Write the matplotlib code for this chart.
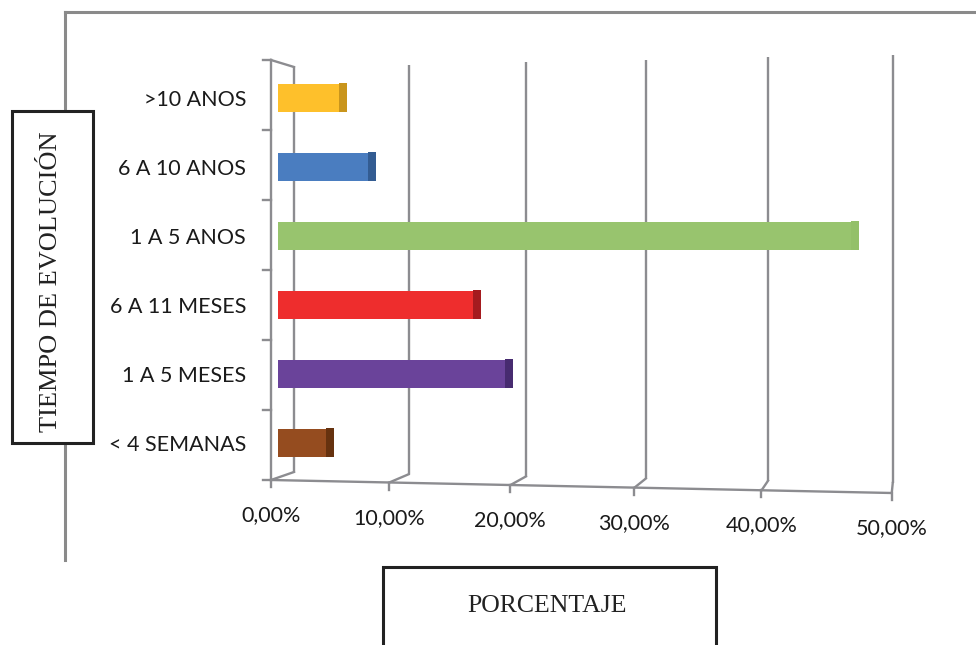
import numpy as np
import matplotlib
matplotlib.use("Agg")
import matplotlib.pyplot as plt

# ---------------- data ----------------
categories = ["< 4 SEMANAS", "1 A 5 MESES", "6 A 11 MESES", "1 A 5 ANOS", "6 A 10 ANOS", ">10 ANOS"]
values = [4.1, 19.2, 16.5, 46.8, 7.7, 5.2]
colors = ["#954C1F", "#6A439A", "#EE2D2D", "#98C46E", "#4A7DC0", "#FEC02B"]
side_colors = ["#66320F", "#472B70", "#A51B1F", "#93C069", "#335C92", "#C9951C"]
xticks = [0, 10, 20, 30, 40, 50]
xticklabels = ["0,00%", "10,00%", "20,00%", "30,00%", "40,00%", "50,00%"]
ylabel = "TIEMPO DE EVOLUCIÓN"
xlabel = "PORCENTAJE"

W, H = 976, 645
fig = plt.figure(figsize=(W / 100, H / 100), dpi=100)

# decoration layer in pixel coordinates
deco = fig.add_axes([0, 0, 1, 1], zorder=0)
deco.set_xlim(0, W)
deco.set_ylim(H, 0)
deco.axis("off")

# perspective helpers (pixels)
def fx(v):  # front plane
    return 271 + 11.65 * v + 0.0153 * v ** 2

def bx(v):  # back wall
    return 294 + 11.35 * v + 0.0125 * v ** 2

def f_floor(v):
    return 480 + 13 * v / 50

def b_floor(v):
    return 472 + 11 * v / 50

def b_top(v):
    return 67 - 12 * v / 50

grid = "#8C8C90"
glw = 1.7
for v, lab in zip(xticks, xticklabels):
    deco.plot([bx(v), bx(v)], [b_top(v), b_floor(v)], color=grid, lw=glw, solid_capstyle="butt")
    deco.plot([bx(v), fx(v)], [b_floor(v), f_floor(v)], color=grid, lw=glw)
    deco.plot([fx(v), fx(v)], [f_floor(v), f_floor(v) + 7], color=grid, lw=glw)
    deco.text(fx(v), f_floor(v) + 35, lab, ha="center", va="center",
              fontsize=15.5, family="Lato", color="#1a1a1a")

# front floor line
deco.plot([fx(0), fx(50)], [f_floor(0), f_floor(50)], color=grid, lw=glw)
# front left axis + top connector
ncat = len(categories)
deco.plot([fx(0), fx(0)], [60, f_floor(0)], color=grid, lw=glw)
deco.plot([fx(0), bx(0)], [60, b_top(0)], color=grid, lw=glw)
for k in range(ncat + 1):
    yk = 60 + k * (f_floor(0) - 60) / ncat
    deco.plot([fx(0) - 8, fx(0)], [yk, yk], color=grid, lw=glw)

# outer chart frame
frame = "#8A8A8A"
deco.plot([65, W], [12, 12], color=frame, lw=2.2)
deco.plot([65, 65], [12, 560], color=frame, lw=2.2)

# y-axis title box
deco.add_patch(plt.Rectangle((12, 111), 81, 332, facecolor="white", edgecolor="#222222", lw=2.2, zorder=3))
deco.text(51, 282, ylabel, rotation=90, ha="center", va="center", fontsize=19,
          family="Liberation Serif", color="#222222", zorder=4)
# x-axis title box
deco.add_patch(plt.Rectangle((383, 567), 333, 100, facecolor="white", edgecolor="#222222", lw=2.2, zorder=3))
deco.text(547, 606, xlabel, ha="center", va="center", fontsize=18.5,
          family="Liberation Serif", color="#222222", zorder=4)

# ---------------- bars on a perspective scale ----------------
A, B = 0.01446, 11.56

def fwd(v):
    v = np.asarray(v, dtype=float)
    return B * v + A * v ** 2

def inv(p):
    p = np.asarray(p, dtype=float)
    return (-B + np.sqrt(np.maximum(B ** 2 + 4 * A * p, 0))) / (2 * A)

left_px, right_px = 278, 278 + float(fwd(50))
top_px, bot_px = 63.5, 477.5
ax = fig.add_axes([left_px / W, 1 - bot_px / H, (right_px - left_px) / W, (bot_px - top_px) / H], zorder=2)
ax.patch.set_alpha(0)
ax.set_xscale("function", functions=(fwd, inv))
ax.set_xlim(0, 50)
ax.set_ylim(-0.5, ncat - 0.5)
for s in ax.spines.values():
    s.set_visible(False)
ax.set_xticks([])

ypos = np.arange(ncat)
bh = 0.415
ax.barh(ypos, values, height=bh, color=colors, edgecolor="none")
# right end (depth) faces
px_per_unit = (right_px - left_px) / float(fwd(50))
depth = [float(inv(fwd(v) + 8 / px_per_unit)) - v for v in values]
ax.barh(ypos + 0.01, depth, left=values, height=bh, color=side_colors, edgecolor="none")

ax.set_yticks(ypos)
ax.set_yticklabels(categories, fontsize=15.5, family="Lato", color="#1a1a1a")
ax.tick_params(axis="y", length=0, pad=23)

fig.savefig("out.png", dpi=100)
